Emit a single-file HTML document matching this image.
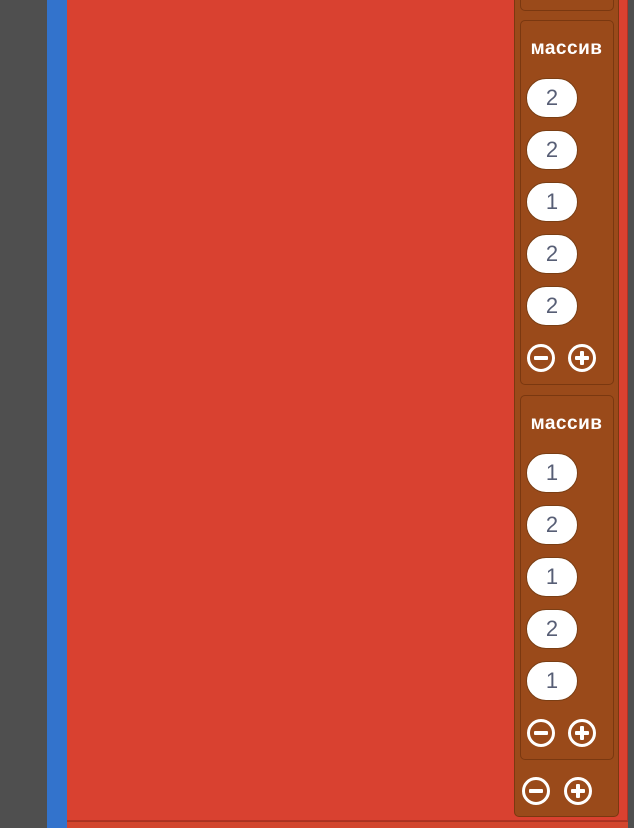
<!DOCTYPE html>
<html><head><meta charset="utf-8"><style>
html,body{margin:0;padding:0;width:634px;height:828px;overflow:hidden;background:#4f4f4f;font-family:"Liberation Sans","DejaVu Sans",sans-serif}
.abs{position:absolute;box-sizing:border-box}
.pill{position:absolute;box-sizing:border-box;left:526px;width:52px;height:40px;background:#fff;border-radius:20px;border:1px solid #7a3e14;color:#575e75;font-size:22px;text-align:center;line-height:38px}
.title{position:absolute;left:520px;width:93px;text-align:center;color:#fff;font-weight:bold;font-size:19px;letter-spacing:0.5px}
.btn{position:absolute;width:28px;height:28px;border:3px solid #fff;border-radius:50%;box-sizing:border-box}
.btn::before{content:"";position:absolute;left:4px;top:9px;width:14px;height:4px;background:#fff;border-radius:1px}
.plus::after{content:"";position:absolute;left:9px;top:4px;width:4px;height:14px;background:#fff;border-radius:1px}
</style></head><body>
<div class="abs" style="left:0;top:0;width:47px;height:828px;background:#4f4f4f"></div>
<div class="abs" style="left:47px;top:0;width:21px;height:828px;background:#3373cc"></div>
<div class="abs" style="left:67px;top:0;width:561px;height:822px;background:#d94130;border-bottom:2px solid #b13324;border-right:1px solid #b13324"></div>
<div class="abs" style="left:67px;top:821px;width:561px;height:7px;background:#d2462e;border-top:1px solid #a93421"></div>
<div class="abs" style="left:514px;top:-10px;width:105px;height:827px;background:#9a4a1a;border:1px solid #7a3810;border-radius:5px"></div>
<div class="abs" style="left:520px;top:-10px;width:94px;height:21px;background:#9a4a1a;border:1px solid #7a3810;border-radius:5px"></div>
<div class="abs" style="left:520px;top:20px;width:94px;height:365px;border:1px solid #7a3810;border-radius:5px"></div>
<div class="title" style="top:38px">массив</div>
<div class="pill" style="top:78px">2</div>
<div class="pill" style="top:130px">2</div>
<div class="pill" style="top:182px">1</div>
<div class="pill" style="top:234px">2</div>
<div class="pill" style="top:286px">2</div>
<div class="btn" style="left:527px;top:344px"></div>
<div class="btn plus" style="left:568px;top:344px"></div>
<div class="abs" style="left:520px;top:395px;width:94px;height:365px;border:1px solid #7a3810;border-radius:5px"></div>
<div class="title" style="top:413px">массив</div>
<div class="pill" style="top:453px">1</div>
<div class="pill" style="top:505px">2</div>
<div class="pill" style="top:557px">1</div>
<div class="pill" style="top:609px">2</div>
<div class="pill" style="top:661px">1</div>
<div class="btn" style="left:527px;top:719px"></div>
<div class="btn plus" style="left:568px;top:719px"></div>
<div class="btn" style="left:522px;top:777px"></div>
<div class="btn plus" style="left:564px;top:777px"></div>
</body></html>
